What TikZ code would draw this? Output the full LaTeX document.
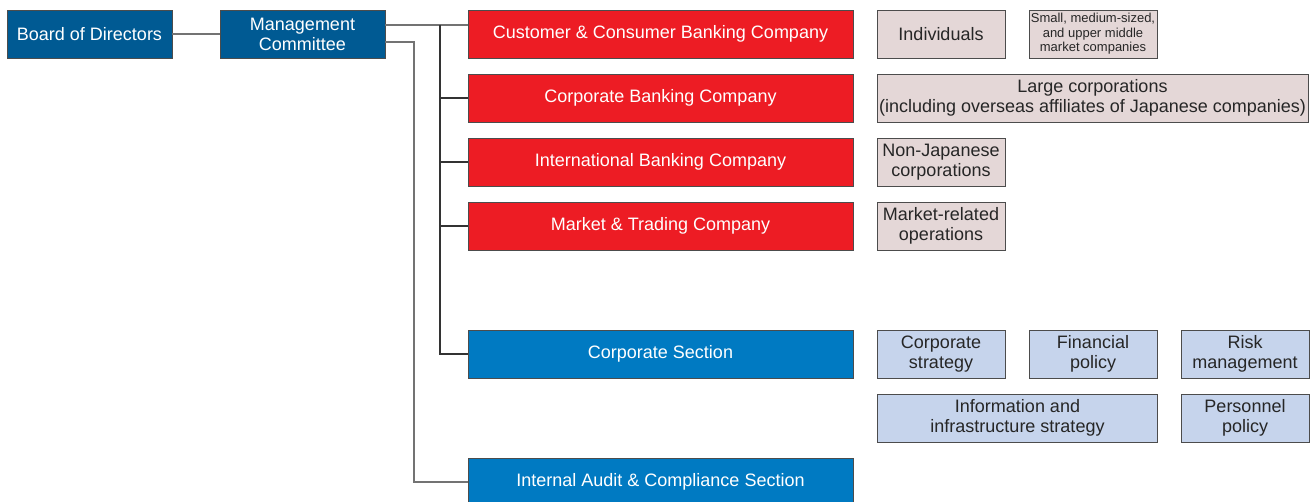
\documentclass[tikz,border=0pt]{standalone}
\usepackage{fontspec}
\setmainfont{Liberation Sans}
\begin{document}
\begin{tikzpicture}[x=1pt,y=-1pt,
  box/.style={draw=black!70, line width=0.9pt, inner sep=0pt, align=center,
    font=\fontsize{18}{20}\selectfont},
  navy/.style={box, fill=navyblue, text=white},
  redbox/.style={box, fill=brandred, text=white},
  bluebox/.style={box, fill=midblue, text=white},
  pinkbox/.style={box, fill=rosegrey, text=black!85},
  paleblue/.style={box, fill=paleblu, text=black!85},
  link/.style={draw=black!55, line width=1.1pt},
  trunk/.style={draw=black!80, line width=1.1pt}]
\definecolor{navyblue}{HTML}{005A93}
\definecolor{brandred}{HTML}{ED1C24}
\definecolor{midblue}{HTML}{007AC2}
\definecolor{rosegrey}{HTML}{E4D7D7}
\definecolor{paleblu}{HTML}{C6D4EC}
\useasboundingbox (0,0) rectangle (1312,502);
\clip (0,0) rectangle (1312,502);
% left column
\node[navy, minimum width=165, minimum height=48] (bod) at (89.5,34) {Board of Directors};
\node[navy, minimum width=165, minimum height=48] (mc) at (302.5,34) {Management\\Committee};
% companies
\node[redbox, minimum width=385, minimum height=48] (cust) at (660.5,34) {Customer \& Consumer Banking Company};
\node[redbox, minimum width=385, minimum height=48] (corp) at (660.5,98) {Corporate Banking Company};
\node[redbox, minimum width=385, minimum height=48] (intl) at (660.5,162) {International Banking Company};
\node[redbox, minimum width=385, minimum height=48] (mkt) at (660.5,226) {Market \& Trading Company};
\node[bluebox, minimum width=385, minimum height=48] (cs) at (660.5,354) {Corporate Section};
\node[bluebox, minimum width=385, minimum height=48] (ia) at (660.5,482) {Internal Audit \& Compliance Section};
% customer groups
\node[pinkbox, minimum width=128, minimum height=48] (ind) at (941,34) {Individuals};
\node[pinkbox, minimum width=128, minimum height=48, font=\fontsize{13}{14.5}\selectfont] (sme) at (1093,34) {Small, medium-sized,\\and upper middle\\market companies};
\node[pinkbox, minimum width=431, minimum height=48] (large) at (1092.5,98) {Large corporations\\(including overseas affiliates of Japanese companies)};
\node[pinkbox, minimum width=128, minimum height=48] (nonjp) at (941,162) {Non-Japanese\\corporations};
\node[pinkbox, minimum width=128, minimum height=48] (mktops) at (941,226) {Market-related\\operations};
% corporate section units
\node[paleblue, minimum width=128, minimum height=48] (cstrat) at (941,354) {Corporate\\strategy};
\node[paleblue, minimum width=128, minimum height=48] (fin) at (1093,354) {Financial\\policy};
\node[paleblue, minimum width=128, minimum height=48] (risk) at (1245,354) {Risk\\management};
\node[paleblue, minimum width=280, minimum height=48] (info) at (1017.5,418) {Information and\\infrastructure strategy};
\node[paleblue, minimum width=128, minimum height=48] (pers) at (1245,418) {Personnel\\policy};
% connectors
\draw[link] (bod.east) -- (mc.west);
\draw[link] (mc.east |- 0,25) -- (cust.west |- 0,25);
\coordinate (top) at (440,25);
\draw[trunk] (top) -- (top |- cs.west) -- (cs.west);
\draw[trunk] (top |- corp.west) -- (corp.west);
\draw[trunk] (top |- intl.west) -- (intl.west);
\draw[trunk] (top |- mkt.west) -- (mkt.west);
\coordinate (aud) at (414,42);
\draw[link] (mc.east |- aud) -- (aud) -- (aud |- ia.west) -- (ia.west);
\end{tikzpicture}
\end{document}
